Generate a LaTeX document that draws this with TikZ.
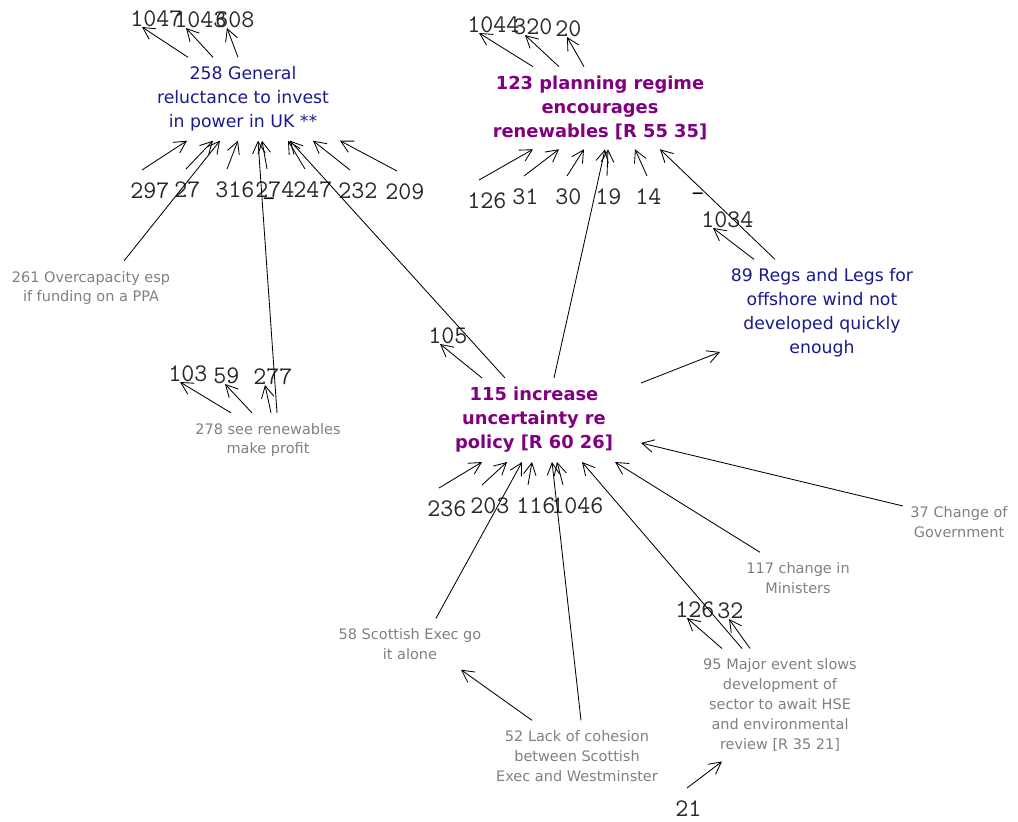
\documentclass[tikz,border=0pt]{standalone}
\usepackage{fontspec}
\setmainfont{DejaVu Sans}
\usepackage{tikz}
\usetikzlibrary{arrows.meta,calc}
\definecolor{navyblue}{RGB}{26,26,140}
\definecolor{conceptpurple}{RGB}{128,0,128}
\definecolor{conceptgrey}{RGB}{128,128,128}
\definecolor{refgrey}{RGB}{40,40,40}

\tikzset{
  bluenode/.style={align=center, inner sep=6.5pt, text=navyblue, font=\fontsize{12.3}{17}\selectfont},
  hubnode/.style={align=center, inner sep=6.5pt, text=conceptpurple, font=\bfseries\fontsize{12.7}{17}\selectfont},
  greynode/.style={align=center, inner sep=7pt, text=conceptgrey, font=\fontsize{10.3}{14.2}\selectfont},
  refnum/.style={inner sep=0pt, text=refgrey, font=\ttfamily\fontsize{18}{19}\selectfont},
  minus/.style={inner sep=0pt, text=black, font=\ttfamily\fontsize{18}{19}\selectfont},
  link/.style={-{Straight Barb[length=8.5pt,width=9pt]}, line width=0.6pt}
}

\begin{document}
\begin{tikzpicture}[x=0.025cm, y=-0.025cm]
    \useasboundingbox (0,0) rectangle (1018,821);

    \node[bluenode] (n258) at (243,99) {258 General\\reluctance to invest\\in power in UK **};
    \node[hubnode] (n123) at (600,108) {123 planning regime\\encourages\\renewables [R 55 35]};
    \node[bluenode] (n89) at (822,313) {89 Regs and Legs for\\offshore wind not\\developed quickly\\enough};
    \node[hubnode] (n115) at (534,420) {115 increase\\uncertainty re\\policy [R 60 26]};
    \node[greynode] (n261) at (91,288) {261 Overcapacity esp\\if funding on a PPA};
    \node[greynode] (n278) at (268,440) {278 see renewables\\make profit};
    \node[greynode] (n58) at (410,644) {58 Scottish Exec go\\it alone};
    \node[greynode] (n52) at (577,756) {52 Lack of cohesion\\between Scottish\\Exec and Westminster};
    \node[greynode] (n95) at (780,705) {95 Major event slows\\development of\\sector to await HSE\\and environmental\\review [R 35 21]};
    \node[greynode] (n117) at (798,578) {117 change in\\Ministers};
    \node[greynode] (n37) at (959,522) {37 Change of\\Government};

    \node[refnum, anchor=south west] (s1047) at (130,27) {1047};
    \node[refnum, anchor=south west] (s1043) at (174,28) {1043};
    \node[refnum, anchor=south west] (s608) at (215,28) {608};
    \node[refnum, anchor=north west] (s297) at (130,182) {297};
    \node[refnum, anchor=north west] (s27) at (174,181) {27};
    \node[refnum, anchor=north west] (s316) at (215,181) {316};
    \node[refnum, anchor=north west] (s274) at (255,181) {274};
    \node[refnum, anchor=north west] (s247) at (293,181) {247};
    \node[refnum, anchor=north west] (s232) at (338,182) {232};
    \node[refnum, anchor=north west] (s209) at (385,183) {209};

    \node[refnum, anchor=south west] (s1044) at (467,33) {1044};
    \node[refnum, anchor=south west] (s320) at (513,35) {320};
    \node[refnum, anchor=south west] (s20) at (555,37) {20};
    \node[refnum, anchor=north west] (s126a) at (467,192) {126};
    \node[refnum, anchor=north west] (s31) at (512,188) {31};
    \node[refnum, anchor=north west] (s30) at (555,188) {30};
    \node[refnum, anchor=north west] (s19) at (595,188) {19};
    \node[refnum, anchor=north west] (s14) at (635,188) {14};

    \node[refnum, anchor=south west] (s1034) at (701,228) {1034};
    \node[refnum, anchor=south west] (s105) at (428,344) {105};
    \node[refnum, anchor=north west] (s236) at (427,500) {236};
    \node[refnum, anchor=north west] (s203) at (470,497) {203};
    \node[refnum, anchor=north west] (s116) at (516,497) {116};
    \node[refnum, anchor=north west] (s1046) at (551,497) {1046};

    \node[refnum, anchor=south west] (s103) at (168,382) {103};
    \node[refnum, anchor=south west] (s59) at (213,384) {59};
    \node[refnum, anchor=south west] (s277) at (253,385) {277};
    \node[refnum, anchor=south west] (s126b) at (675,618) {126};
    \node[refnum, anchor=south west] (s32) at (717,619) {32};
    \node[refnum, anchor=north west] (s21) at (675,800) {21};

    \draw[link] ($(n258.north)+(-55,0)$) -- ($(s1047.south west)+(12,0)$);
    \draw[link] ($(n258.north)+(-30,0)$) -- ($(s1043.south west)+(12,0)$);
    \draw[link] ($(n258.north)+(-5,0)$) -- ($(s608.south west)+(12,0)$);
    \draw[link] ($(s297.north west)+(12,-12)$) -- ($(n258.south)+(-56,0)$);
    \draw[link] ($(s27.north west)+(12,-12)$) -- ($(n258.south)+(-30,0)$);
    \draw[link] ($(s316.north west)+(12,-12)$) -- ($(n258.south)+(-5,0)$);
    \draw[link] ($(s274.north west)+(12,-12)$) -- ($(n258.south)+(19,0)$);
    \draw[link] ($(s247.north west)+(12,-12)$) -- ($(n258.south)+(45,0)$);
    \draw[link] ($(s232.north west)+(12,-12)$) -- ($(n258.south)+(70,0)$);
    \draw[link] ($(s209.north west)+(12,-12)$) -- ($(n258.south)+(97,0)$);

    \draw[link] ($(n123.north)+(-67,0)$) -- ($(s1044.south west)+(12,0)$);
    \draw[link] ($(n123.north)+(-41,0)$) -- ($(s320.south west)+(12,0)$);
    \draw[link] ($(n123.north)+(-16,0)$) -- ($(s20.south west)+(12,0)$);
    \draw[link] ($(s126a.north west)+(12,-12)$) -- ($(n123.south)+(-67,0)$);
    \draw[link] ($(s31.north west)+(12,-12)$) -- ($(n123.south)+(-41,0)$);
    \draw[link] ($(s30.north west)+(12,-12)$) -- ($(n123.south)+(-16,0)$);
    \draw[link] ($(s19.north west)+(12,-12)$) -- ($(n123.south)+(8,0)$);
    \draw[link] ($(s14.north west)+(12,-12)$) -- ($(n123.south)+(35,0)$);

    \draw[link] ($(n89.north)+(-68,0)$) -- ($(s1034.south west)+(12,0)$);
    \draw[link] ($(n115.north)+(-52,0)$) -- ($(s105.south west)+(12,0)$);
    \draw[link] ($(s236.north west)+(12,-12)$) -- ($(n115.south)+(-52,0)$);
    \draw[link] ($(s203.north west)+(12,-12)$) -- ($(n115.south)+(-27,0)$);
    \draw[link] ($(s116.north west)+(12,-12)$) -- ($(n115.south)+(-2,0)$);
    \draw[link] ($(s1046.north west)+(12,-12)$) -- ($(n115.south)+(23,0)$);

    \draw[link] ($(n278.north)+(-37,0)$) -- ($(s103.south west)+(12,0)$);
    \draw[link] ($(n278.north)+(-16,0)$) -- ($(s59.south west)+(12,0)$);
    \draw[link] ($(n278.north)+(3,0)$) -- ($(s277.south west)+(12,0)$);
    \draw[link] ($(n95.north)+(-58,0)$) -- ($(s126b.south west)+(12,0)$);
    \draw[link] ($(n95.north)+(-30,0)$) -- ($(s32.south west)+(12,0)$);
    \draw[link] ($(s21.north west)+(12,-12)$) -- ($(n95.south)+(-58,0)$);

    \draw[link] ($(n261.north)+(33,0)$) -- ($(n258.south)+(-23,0)$);
    \draw[link] ($(n278.north)+(9,0)$) -- node[minus, pos=0.79, anchor=north west] {-} ($(n258.south)+(15,0)$);
    \draw[link] ($(n115.north)+(-29,0)$) -- ($(n258.south)+(47,0)$);
    \draw[link] ($(n115.north)+(20,0)$) -- ($(n123.south)+(5,0)$);
    \draw[link] ($(n89.north)+(-47,0)$) -- node[minus, pos=0.61, anchor=north east] {-} ($(n123.south)+(60,0)$);
    \draw[link] ($(n115.center)+(107,-37)$) -- ($(n89.center)+(-102,39)$);
    \draw[link] ($(n58.north)+(26,0)$) -- ($(n115.south)+(-12,0)$);
    \draw[link] ($(n52.north)+(4,0)$) -- ($(n115.south)+(18,0)$);
    \draw[link] ($(n52.north)+(-45,0)$) -- ($(n58.south)+(51,0)$);
    \draw[link] ($(n95.north)+(-38,0)$) -- ($(n115.south)+(48,0)$);
    \draw[link] ($(n117.north)+(-38,0)$) -- ($(n115.south)+(81,0)$);
    \draw[link] ($(n37.center)+(-56,-16)$) -- ($(n115.center)+(107,23)$);
\end{tikzpicture}
\end{document}
